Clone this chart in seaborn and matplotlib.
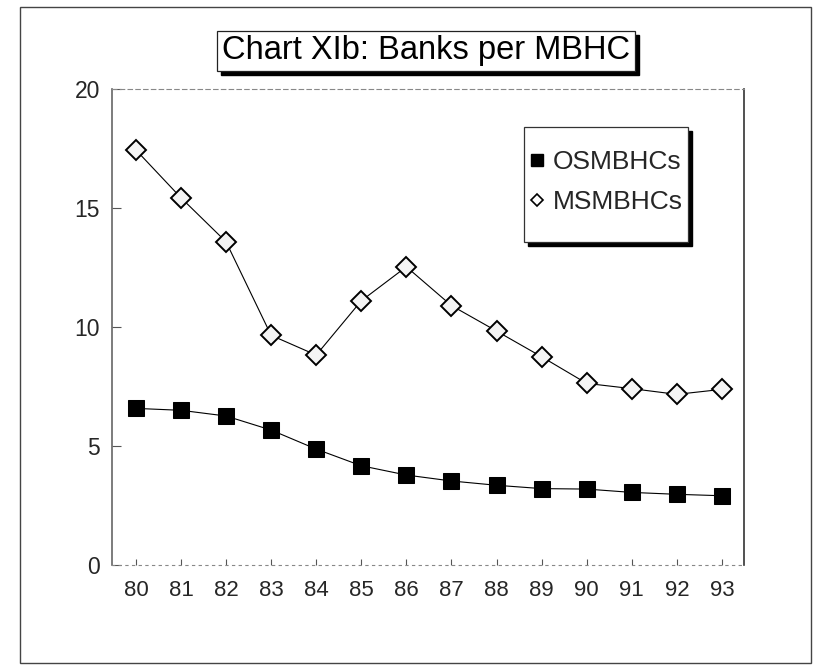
import matplotlib
matplotlib.use('Agg')
import matplotlib.pyplot as plt
import matplotlib.patches as mpatches
from matplotlib.lines import Line2D
import numpy as np
import pandas as pd
import seaborn as sns

# data
years = [80, 81, 82, 83, 84, 85, 86, 87, 88, 89, 90, 91, 92, 93]
osmbhcs = [6.58, 6.50, 6.26, 5.67, 4.87, 4.17, 3.78, 3.53, 3.35, 3.21, 3.19, 3.05, 2.97, 2.91]
msmbhcs = [17.44, 15.43, 13.58, 9.65, 8.82, 11.10, 12.53, 10.90, 9.83, 8.75, 7.63, 7.41, 7.17, 7.38]
series_names = ['OSMBHCs', 'MSMBHCs']
y_ticks = [0, 5, 10, 15, 20]
title = 'Chart XIb: Banks per MBHC'

df = pd.DataFrame({'year': years, 'OSMBHCs': osmbhcs, 'MSMBHCs': msmbhcs})

sns.set_style('white')
plt.rcParams['font.family'] = ['Liberation Sans', 'DejaVu Sans']

fig = plt.figure(figsize=(8.19, 6.65), dpi=100)
ax = fig.add_axes([112 / 819, 1 - 565 / 665, 632 / 819, 476 / 665])

# lines with markers
sns.lineplot(data=df, x='year', y='OSMBHCs', ax=ax, color='black', lw=0.8,
             marker='s', markersize=11.5, markerfacecolor='black',
             markeredgecolor='black', zorder=3)
sns.lineplot(data=df, x='year', y='MSMBHCs', ax=ax, color='black', lw=0.8,
             marker='D', markersize=10, markerfacecolor='#f4f4f4',
             markeredgecolor='black', markeredgewidth=1.4, zorder=3)

ax.set_xlim(79.47, 93.49)
ax.set_ylim(0, 20)
ax.set_xticks(years)
ax.set_xticklabels([str(y) for y in years])
ax.set_yticks(y_ticks)
ax.set_xlabel('')
ax.set_ylabel('')
ax.tick_params(axis='y', direction='in', length=6.5, width=0.8, color='#555555',
               pad=8.5, labelsize=16.5, left=True)
ax.tick_params(axis='x', direction='in', length=4.5, width=0.8, color='#555555',
               pad=11, labelsize=16, bottom=True)

# spines
ax.spines['left'].set_color('#666666')
ax.spines['left'].set_linewidth(1.2)
ax.spines['right'].set_color('#333333')
ax.spines['right'].set_linewidth(1.2)
ax.spines['top'].set_color('#888888')
ax.spines['top'].set_linewidth(0.8)
ax.spines['top'].set_linestyle((0, (4, 3)))
ax.spines['bottom'].set_color('#888888')
ax.spines['bottom'].set_linewidth(0.8)
ax.spines['bottom'].set_linestyle((0, (2, 4)))

# legend box with shadow
sx, sy = 4 / 632, 4 / 476
bx0, by0, bw, bh = 0.652, 0.679, 0.259, 0.241
ax.add_patch(mpatches.Rectangle((bx0 + sx, by0 - sy), bw, bh, transform=ax.transAxes,
                                facecolor='black', edgecolor='black', zorder=4))
ax.add_patch(mpatches.Rectangle((bx0, by0), bw, bh, transform=ax.transAxes,
                                facecolor='white', edgecolor='#333333', lw=0.9, zorder=5))
handles = [
    Line2D([], [], ls='none', marker='s', markersize=9, markerfacecolor='black',
           markeredgecolor='black'),
    Line2D([], [], ls='none', marker='D', markersize=6.5, markerfacecolor='white',
           markeredgecolor='black', markeredgewidth=1.2),
]
leg = ax.legend(handles, series_names, loc='upper left', bbox_to_anchor=(0.658, 0.872),
                frameon=False, fontsize=19, handlelength=0.7, handletextpad=0.25,
                labelspacing=0.6, borderpad=0, borderaxespad=0)
leg.set_zorder(6)

# title box, shadow added as a patch behind its frame
tx, ty = 426 / 819, 1 - 51 / 665
t = fig.text(tx, ty, title, ha='center', va='center', fontsize=23.5, color='black',
             bbox=dict(boxstyle='square,pad=0.15', fc='white', ec='#222222', lw=0.9),
             zorder=5)
fig.canvas.draw()
bb = t.get_bbox_patch().get_window_extent().transformed(fig.transFigure.inverted())
fig.add_artist(mpatches.Rectangle((bb.x0 + 4 / 819, bb.y0 - 4 / 665), bb.width, bb.height,
                                  transform=fig.transFigure, facecolor='black',
                                  edgecolor='black', zorder=4))

# outer frame
fig.add_artist(mpatches.Rectangle((20 / 819, 2 / 665), 791 / 819, 656 / 665,
                                  transform=fig.transFigure, fill=False,
                                  edgecolor='#444444', lw=1.0))

fig.savefig('out.png', dpi=100)
